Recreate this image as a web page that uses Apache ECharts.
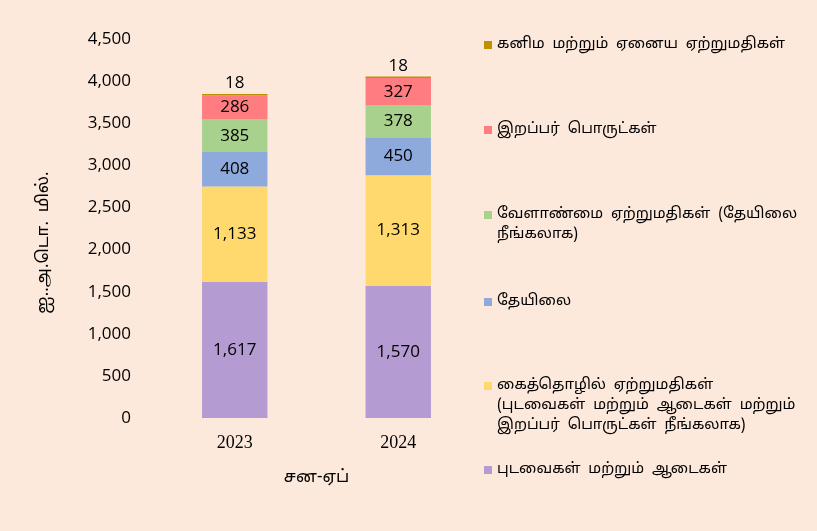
<!DOCTYPE html>
<html>
<head>
<meta charset="utf-8">
<script src="https://cdn.jsdelivr.net/npm/echarts@6/dist/echarts.min.js"></script>
<style>
  html, body { margin: 0; padding: 0; background: #fde9dc; }
  #chart { width: 817px; height: 531px; }
</style>
</head>
<body>
<div id="chart"></div>
<script>
var years = ['2023', '2024'];

var seriesNames = [
    'புடவைகள் மற்றும் ஆடைகள்',
    'கைத்தொழில் ஏற்றுமதிகள் (புடவைகள் மற்றும் ஆடைகள் மற்றும் இறப்பர் பொருட்கள் நீங்கலாக)',
    'தேயிலை',
    'வேளாண்மை ஏற்றுமதிகள் (தேயிலை நீங்கலாக)',
    'இறப்பர் பொருட்கள்',
    'கனிம மற்றும் ஏனைய ஏற்றுமதிகள்'
];

// legend text, broken by hand like the original
var legendLines = [
    ['புடவைகள்  மற்றும்  ஆடைகள்'],
    ['கைத்தொழில்  ஏற்றுமதிகள்', '(புடவைகள்  மற்றும்  ஆடைகள்  மற்றும்', 'இறப்பர்  பொருட்கள்  நீங்கலாக)'],
    ['தேயிலை'],
    ['வேளாண்மை  ஏற்றுமதிகள்  (தேயிலை', 'நீங்கலாக)'],
    ['இறப்பர்  பொருட்கள்'],
    ['கனிம  மற்றும்  ஏனைய  ஏற்றுமதிகள்']
];

var garments = [1617, 1570];
var industrial = [1133, 1313];
var tea = [408, 450];
var agri = [385, 378];
var rubber = [286, 327];
var mineral = [18, 18];

var colors = ['#b49bd1', '#ffd86e', '#8eaadc', '#a9d18e', '#ff7c80', '#bf9000'];
var iconY = [470, 386, 302, 215, 130, 45];
var LH = 20;
var LEGEND_X = 484;
var tamilFont = "'Noto Sans Tamil', 'Lohit Tamil', 'Noto Serif Tamil', FreeSerif, sans-serif";

var allData = [garments, industrial, tea, agri, rubber, mineral];

var chart = echarts.init(document.getElementById('chart'));

var seriesList = allData.map(function (d, i) {
    return {
        name: seriesNames[i],
        type: 'bar',
        stack: 'total',
        barWidth: '40%',
        data: d,
        itemStyle: { color: colors[i] },
        label: {
            show: true,
            position: i == 5 ? 'top' : 'inside',
            distance: 2,
            color: '#000',
            fontFamily: 'Open Sans',
            fontSize: 17,
            formatter: function (p) { return p.value.toLocaleString('en-US'); }
        }
    };
});

// one legend per item so each can sit where the original puts it
var legends = seriesNames.map(function (n, i) {
    return {
        left: LEGEND_X,
        top: iconY[i] - LH / 2,
        padding: 0,
        data: [n],
        icon: 'rect',
        itemWidth: 8,
        itemHeight: 8,
        itemGap: 0,
        selectedMode: false,
        formatter: function () { return legendLines[i][0]; },
        textStyle: { fontFamily: tamilFont, fontSize: 15, lineHeight: LH, color: '#000' }
    };
});

// wrapped legend lines go under the first one
var extraLines = [];
legendLines.forEach(function (lines, i) {
    for (var j = 1; j < lines.length; j++) {
        extraLines.push({
            type: 'text',
            left: LEGEND_X + 13,
            top: iconY[i] + j * LH - LH / 2,
            style: {
                text: lines[j],
                font: '15px ' + tamilFont,
                fill: '#000',
                lineHeight: LH
            }
        });
    }
});

var option = {
    backgroundColor: '#fde9dc',
    animation: false,
    color: colors,
    grid: { left: 153, right: 337, top: 39, bottom: 113 },
    legend: legends,
    graphic: extraLines,
    xAxis: {
        type: 'category',
        data: years,
        name: 'சன-ஏப்',
        nameLocation: 'middle',
        nameGap: 52,
        nameTextStyle: { fontFamily: tamilFont, fontSize: 17, color: '#000' },
        axisLine: { show: false },
        axisTick: { show: false },
        axisLabel: { fontFamily: "'Liberation Serif', 'DejaVu Serif', serif", fontSize: 18, color: '#000', margin: 16 }
    },
    yAxis: {
        type: 'value',
        min: 0,
        max: 4500,
        interval: 500,
        name: 'ஐ..அ.டொ.  மில்.',
        nameLocation: 'middle',
        nameGap: 100,
        nameRotate: 90,
        nameTextStyle: { fontFamily: tamilFont, fontSize: 17, color: '#000', padding: [0, 28, 0, 0] },
        splitLine: { show: false },
        axisLine: { show: false },
        axisTick: { show: false },
        axisLabel: {
            fontFamily: 'Open Sans',
            fontSize: 17,
            color: '#000',
            margin: 22,
            formatter: function (v) { return v.toLocaleString('en-US'); }
        }
    },
    series: seriesList
};

chart.setOption(option);
</script>
</body>
</html>
